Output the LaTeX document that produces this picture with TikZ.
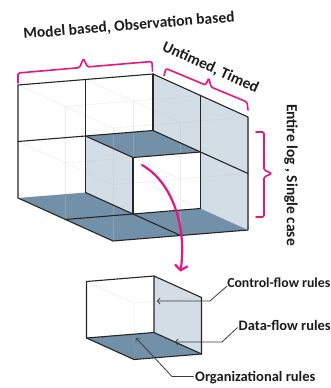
\documentclass[tikz,border=0pt]{standalone}
\usepackage{fontspec}
\setmainfont{Carlito}
\usetikzlibrary{arrows.meta,calc}

\definecolor{edgec}{HTML}{262626}
\definecolor{sidec}{HTML}{D2DDE5}
\definecolor{floorc}{HTML}{7290A7}
\definecolor{bracec}{HTML}{E5177E}
\definecolor{txtc}{HTML}{1C1C1C}
\definecolor{leadc}{HTML}{3C3C3C}
\definecolor{hidc}{HTML}{C4C4C4}

\tikzset{
  cubeedge/.style={draw=edgec, line width=1.1pt, line join=round, line cap=round},
  hidden/.style={draw=hidc, line width=0.5pt, draw opacity=0.35},
  sideface/.style={fill=sidec},
  floorface/.style={fill=floorc},
  frontface/.style={fill=white},
  bracket/.style={draw=bracec, line width=1.6pt, rounded corners=1.5pt, line cap=round},
  toplbl/.style={text=txtc, font=\fontsize{15.5}{18}\selectfont\bfseries, inner sep=0pt},
  rulelbl/.style={text=txtc, font=\fontsize{14.5}{17}\selectfont\bfseries, inner sep=0pt},
  leader/.style={draw=leadc, line width=0.8pt, -{Straight Barb[length=2.5pt,width=6pt]}},
}

\begin{document}
\begin{tikzpicture}[x=1pt,y=-1pt]
\useasboundingbox (0,0) rectangle (331,388);
\fill[white] (0,0) rectangle (331,388);

% lattice points of the 2x2x2 block (column, row, depth)
\foreach \i in {0,1,2}{
  \foreach \j in {0,1,2}{
    \foreach \k in {0,1,2}{
      \coordinate (b\i\j\k) at ({18+67.5*\i+47.5*\k},{85-5.5*\i+56.5*\j+21.5*\k});
    }}}
% lattice points of the single cell
\foreach \i in {0,1}{
  \foreach \j in {0,1}{
    \foreach \k in {0,1}{
      \coordinate (s\i\j\k) at ({86.5+67.5*\i+47.5*\k},{281.5-5.5*\i+56.5*\j+21.5*\k});
    }}}

% ---- block: faces
\path[frontface] (b000) -- (b200) -- (b210) -- (b110) -- (b120) -- (b020) -- cycle;
\path[sideface] (b200) -- (b202) -- (b222) -- (b221) -- (b211) -- (b210) -- cycle;
\path[sideface] (b110) -- (b111) -- (b121) -- (b120) -- cycle;
\path[floorface] (b110) -- (b210) -- (b211) -- (b111) -- cycle;
\path[frontface] (b111) -- (b211) -- (b221) -- (b121) -- cycle;
\path[floorface] (b020) -- (b120) -- (b121) -- (b221) -- (b222) -- (b022) -- cycle;

% ---- block: inner and back lines seen through the faces
\foreach \k in {1,2}{
  \foreach \i in {0,1,2}{\draw[hidden] (b\i0\k) -- (b\i2\k);}
  \foreach \j in {0,1,2}{\draw[hidden] (b0\j\k) -- (b2\j\k);}
}
\foreach \i in {0,1,2}{
  \foreach \j in {0,1,2}{\draw[hidden] (b\i\j0) -- (b\i\j2);}
}

% ---- block: visible edges
\draw[cubeedge] (b020) -- (b000) -- (b200) -- (b202) -- (b222) -- (b022) -- cycle;
\draw[cubeedge] (b100) -- (b120);
\draw[cubeedge] (b200) -- (b210);
\draw[cubeedge] (b010) -- (b210) -- (b212);
\draw[cubeedge] (b201) -- (b221);
\draw[cubeedge] (b120) -- (b121) -- (b221);
\draw[cubeedge] (b110) -- (b111) -- (b211);
\draw[cubeedge] (b111) -- (b121);
\draw[cubeedge] (b021) -- (b121) -- (b122);

% ---- single cell
\path[frontface] (s000) -- (s100) -- (s110) -- (s010) -- cycle;
\path[sideface] (s100) -- (s101) -- (s111) -- (s110) -- cycle;
\path[floorface] (s010) -- (s110) -- (s111) -- (s011) -- cycle;
\draw[hidden] (s000) -- (s001) -- (s101) (s001) -- (s011);
\draw[cubeedge] (s010) -- (s000) -- (s100) -- (s101) -- (s111) -- (s011) -- cycle;
\draw[cubeedge] (s100) -- (s110) -- (s010) (s110) -- (s111);

% ---- brackets
\draw[bracket] (18,83) -- (18,73) -- (79.5,67.7) -- (83.5,58.5) -- (87.5,66.9) -- (152,61.5) -- (152.5,71);
\draw[bracket] (164,75.5) -- (166,68.5) -- (205.5,85) -- (209,78) -- (211,87) -- (247,102) -- (248,110);
\draw[bracket] (256,132) -- (264,132) -- (264,170) -- (272,173.5) -- (264,177) -- (264,217) -- (256,217);

% ---- axis labels
\node[toplbl, rotate=4.6] (mlab) at (129,26) {Model based, Observation based};
\node[toplbl, rotate=-24.4] (ulab) at (210.5,67.5) {Untimed, Timed};
\node[toplbl, rotate=-90] (elab) at (291,175) {Entire log , Single case};

% ---- curved arrow from the missing cell to the single cell
\coordinate (arrS) at (142,165);
\coordinate (arrE) at (180.5,271.5);
\draw[draw=bracec, line width=2.2pt, line cap=round,
      -{Straight Barb[length=4.5pt,width=12pt,line cap=round]}]
  (arrS) .. controls (172,182) and (187,226) .. (arrE);

% ---- rule labels with leaders
\node[rulelbl, font=\fontsize{13.8}{17}\selectfont\bfseries, anchor=base east] (cflab) at (330.5,287) {Control-flow rules};
\node[rulelbl, anchor=base west] (dflab) at (238.5,330.5) {Data-flow rules};
\node[rulelbl, anchor=base west] (orlab) at (195,381.5) {Organizational rules};

\coordinate (cfbend) at (210,301);
\coordinate (cftip) at (157,301);
\coordinate (dfbend) at (222,342);
\coordinate (dftip) at (175,342);
\coordinate (orbend) at (172,376.5);
\coordinate (ortip) at (136,338);

\draw[leader] ($(cflab.base west)+(0,-1)$) -- (cfbend) -- (cftip);
\draw[leader] ($(dflab.base west)+(-1,-3)$) -- (dfbend) -- (dftip);
\draw[leader] ($(orlab.base west)+(-1.5,-5)$) -- (orbend) -- (ortip);
\end{tikzpicture}
\end{document}
